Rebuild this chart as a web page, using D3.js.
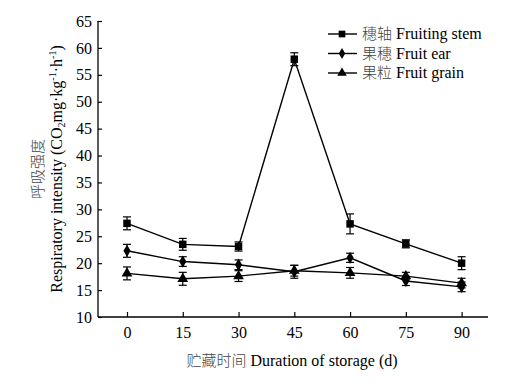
<!DOCTYPE html>
<html>
<head>
<meta charset="utf-8">
<script src="https://cdn.jsdelivr.net/npm/d3@7"></script>
<style>
  body { margin: 0; background: #fff; }
  text { font-family: "Liberation Serif", "Times New Roman", serif; fill: #000; }
  .cjk { font-family: "Noto Sans CJK SC", sans-serif; fill: #444; font-weight: 300; }
</style>
</head>
<body>
<svg id="chart" width="530" height="386"></svg>
<script>
const days = [0, 15, 30, 45, 60, 75, 90];
const yTicks = [10, 15, 20, 25, 30, 35, 40, 45, 50, 55, 60, 65];

const stem = [27.4, 23.5, 23.1, 57.9, 27.3, 23.6, 20.0];
const stemErr = [1.2, 1.1, 0.85, 1.2, 1.85, 0.75, 1.2];
const ear = [22.3, 20.3, 19.7, 18.4, 21.0, 16.7, 15.6];
const earErr = [1.2, 0.9, 0.9, 1.2, 0.85, 0.85, 0.9];
const grain = [18.1, 17.1, 17.6, 18.6, 18.2, 17.6, 16.3];
const grainErr = [1.2, 1.2, 1.0, 1.0, 1.0, 0.7, 0.9];

const seriesNames = [
  { zh: '穗轴', en: 'Fruiting stem' },
  { zh: '果穗', en: 'Fruit ear' },
  { zh: '果粒', en: 'Fruit grain' }
];

const series = [
  { vals: stem, err: stemErr, shape: d3.symbolSquare, size: 56 },
  { vals: ear, err: earErr, shape: d3.symbolDiamond, size: 44 },
  { vals: grain, err: grainErr, shape: d3.symbolTriangle, size: 50 }
];

const svg = d3.select('#chart');
const plotL = 98, plotR = 488, plotT = 21, plotB = 317;

const x = d3.scaleLinear().domain([-7.8, 97.1]).range([plotL, plotR]);
const y = d3.scaleLinear().domain([10, 65]).range([plotB, plotT]);

// axes: ticks point inward
const xAxis = svg.append('g')
  .attr('transform', `translate(0,${plotB})`)
  .call(d3.axisBottom(x).tickValues(days).tickSize(-5).tickPadding(10));
const yAxis = svg.append('g')
  .attr('transform', `translate(${plotL},0)`)
  .call(d3.axisLeft(y).tickValues(yTicks).tickSize(-4).tickPadding(6));

for (const ax of [xAxis, yAxis]) {
  ax.select('.domain').attr('stroke', '#000').attr('stroke-width', 1.3);
  ax.selectAll('.tick line').attr('stroke', '#000').attr('stroke-width', 1.2);
  ax.selectAll('.tick text').style('font-size', '16px').attr('fill', '#000');
}
xAxis.select('.domain').attr('d', `M${plotL},0H${plotR}`);
yAxis.select('.domain').attr('d', `M0,${plotT}V${plotB}`);

const line = d3.line().x((d, i) => x(days[i])).y(d => y(d));

series.forEach(s => {
  svg.append('path')
    .datum(s.vals)
    .attr('d', line)
    .attr('fill', 'none')
    .attr('stroke', '#000')
    .attr('stroke-width', 1.4);

  const g = svg.append('g');
  s.vals.forEach((v, i) => {
    const cx = x(days[i]);
    const y0 = y(v - s.err[i]), y1 = y(v + s.err[i]);
    g.append('line').attr('x1', cx).attr('x2', cx).attr('y1', y0).attr('y2', y1)
      .attr('stroke', '#000').attr('stroke-width', 1.2);
    g.append('line').attr('x1', cx - 4).attr('x2', cx + 4).attr('y1', y0).attr('y2', y0)
      .attr('stroke', '#000').attr('stroke-width', 1.2);
    g.append('line').attr('x1', cx - 4).attr('x2', cx + 4).attr('y1', y1).attr('y2', y1)
      .attr('stroke', '#000').attr('stroke-width', 1.2);
    g.append('path')
      .attr('d', d3.symbol().type(s.shape).size(s.size)())
      .attr('transform', `translate(${cx},${y(v)})`)
      .attr('fill', '#000');
  });
});

// legend
const legend = svg.append('g');
seriesNames.forEach((n, i) => {
  const ly = 34 + i * 19.5;
  legend.append('line').attr('x1', 328).attr('x2', 357).attr('y1', ly).attr('y2', ly)
    .attr('stroke', '#000').attr('stroke-width', 1.4);
  legend.append('path')
    .attr('d', d3.symbol().type(series[i].shape).size(series[i].size * 0.8)())
    .attr('transform', `translate(342,${ly})`)
    .attr('fill', '#000');
  const t = legend.append('text').attr('x', 362).attr('y', ly + 5).style('font-size', '16px');
  t.append('tspan').attr('class', 'cjk').style('font-size', '15px').text(n.zh);
  t.append('tspan').text(' ' + n.en);
});

// axis titles
const xt = svg.append('text').attr('x', 292).attr('y', 366)
  .attr('text-anchor', 'middle').style('font-size', '16px');
xt.append('tspan').attr('class', 'cjk').style('font-size', '15px').text('贮藏时间');
xt.append('tspan').text(' Duration of storage (d)');

svg.append('text').attr('class', 'cjk')
  .attr('transform', 'translate(43,169) rotate(-90)')
  .attr('text-anchor', 'middle').style('font-size', '15px')
  .text('呼吸强度');

const yt = svg.append('text')
  .attr('transform', 'translate(62,169) rotate(-90)')
  .attr('text-anchor', 'middle').style('font-size', '16px');
yt.append('tspan').text('Respiratory intensity (CO');
yt.append('tspan').attr('dy', 3).style('font-size', '10px').text('2');
yt.append('tspan').attr('dy', -3).text('mg·kg');
yt.append('tspan').attr('dy', -6).style('font-size', '10px').text('-1');
yt.append('tspan').attr('dy', 6).text('·h');
yt.append('tspan').attr('dy', -6).style('font-size', '10px').text('-1');
yt.append('tspan').attr('dy', 6).text(')');
</script>
</body>
</html>
